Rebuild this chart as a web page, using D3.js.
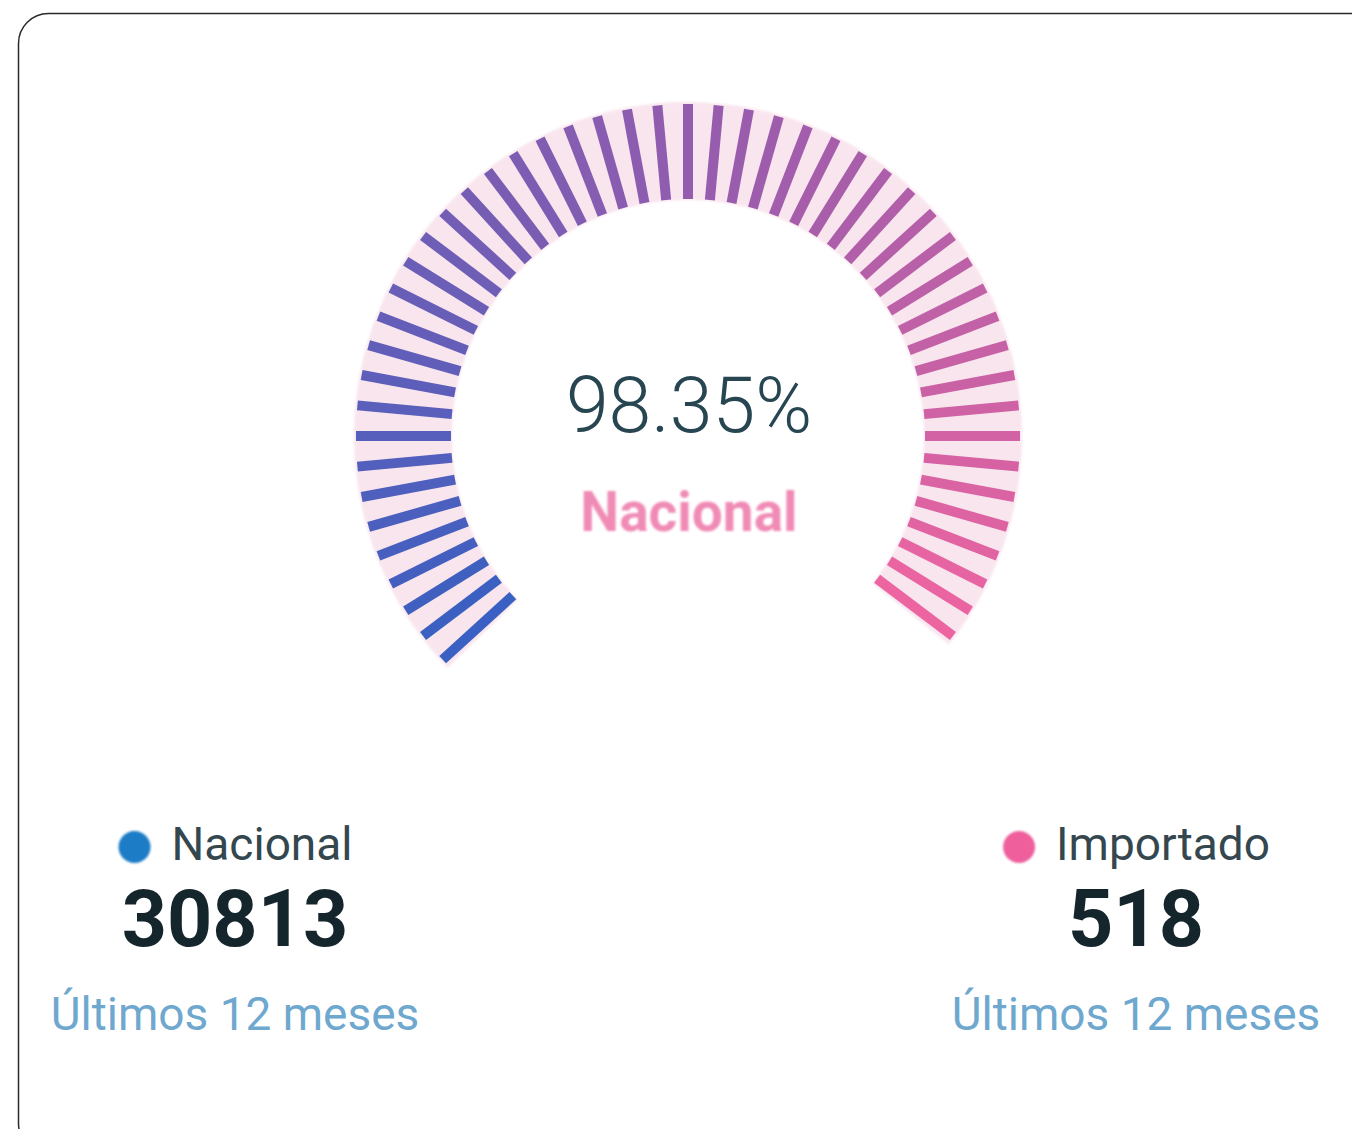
<!DOCTYPE html>
<html>
<head>
<meta charset="utf-8">
<script src="https://cdn.jsdelivr.net/npm/d3@7"></script>
<style>
  html, body { margin: 0; padding: 0; background: #fff; }
  svg { display: block; font-family: Roboto, "Open Sans", sans-serif; }
</style>
</head>
<body>
<svg id="chart"></svg>
<script>
// data
const categories = ["Nacional", "Importado"]
const totals = [30813, 518]
const dotColors = ["#1c7cc6", "#ee5f9c"]
const percent = 98.35
const centerLabel = "Nacional"
const periodLabel = "Últimos 12 meses"
const barCount = 51

const width = 1352
const height = 1129
const cx = 688
const cy = 436
const innerR = 237
const outerR = 332

let svg = d3.select("#chart")
  .attr("width", width)
  .attr("height", height)

// card outline
svg.append("rect")
  .attr("x", 18.5)
  .attr("y", 13.5)
  .attr("width", 1420)
  .attr("height", 1140)
  .attr("rx", 30)
  .attr("fill", "#fff")
  .attr("stroke", "#2b2b2b")
  .attr("stroke-width", 1.5)

let defs = svg.append("defs")
defs.append("filter")
  .attr("id", "soft")
  .append("feGaussianBlur")
  .attr("stdDeviation", 0.9)

// angle scale: 0..100 % -> -135deg..135deg
let angle = d3.scaleLinear()
  .domain([0, 100])
  .range([-135 * Math.PI / 180, 135 * Math.PI / 180])

let slot = d3.scaleBand()
  .domain(d3.range(barCount))
  .range([0, 100])

let color = d3.scaleLinear()
  .domain([0, 50, 100])
  .range(["#3760c2", "#935cae", "#f2659f"])
  .interpolate(d3.interpolateRgb)

let bars = d3.range(barCount).map(function(i) {
  let mid = slot(i) + slot.bandwidth() / 2
  return { i: i, mid: mid, on: slot(i) + slot.bandwidth() <= percent + 0.5 }
}).filter(function(d) { return d.on })

let gauge = svg.append("g")
  .attr("transform", "translate(" + cx + "," + cy + ")")

// faint pink halo behind the bars
let lastMid = bars[bars.length - 1].mid
gauge.append("path")
  .attr("d", d3.arc()
    .innerRadius(innerR - 1)
    .outerRadius(outerR + 2)
    .startAngle(angle(slot(0) + slot.bandwidth() * 0.2))
    .endAngle(angle(lastMid + slot.bandwidth() * 0.3)))
  .attr("fill", "#f7dbe8")
  .attr("opacity", 0.7)
  .attr("filter", "url(#soft)")

// radial bars
gauge.selectAll("line.bar")
  .data(bars)
  .enter()
  .append("line")
  .attr("class", "bar")
  .attr("x1", function(d) { return innerR * Math.sin(angle(d.mid)) })
  .attr("y1", function(d) { return -innerR * Math.cos(angle(d.mid)) })
  .attr("x2", function(d) { return outerR * Math.sin(angle(d.mid)) })
  .attr("y2", function(d) { return -outerR * Math.cos(angle(d.mid)) })
  .attr("stroke", function(d) { return color(d.mid) })
  .attr("stroke-width", 10)

// center text
svg.append("text")
  .attr("x", 689)
  .attr("y", 432)
  .attr("text-anchor", "middle")
  .attr("font-size", 77)
  .attr("font-weight", 300)
  .attr("fill", "#274652")
  .text(percent.toFixed(2) + "%")

svg.append("text")
  .attr("x", 689)
  .attr("y", 531)
  .attr("text-anchor", "middle")
  .attr("font-size", 55)
  .attr("font-weight", 700)
  .attr("fill", "#f08bb5")
  .attr("filter", "url(#soft)")
  .text(centerLabel)

// bottom summaries
let colX = [235, 1136]
let fmt = d3.format("d")

let summary = svg.selectAll("g.summary")
  .data(categories)
  .enter()
  .append("g")
  .attr("class", "summary")
  .attr("transform", function(d, i) { return "translate(" + colX[i] + ",0)" })

summary.each(function(d, i) {
  let g = d3.select(this)
  let label = g.append("text")
    .attr("y", 860)
    .attr("font-size", 46)
    .attr("fill", "#34474f")
    .text(d)
  let w = label.node().getComputedTextLength()
  let total = 34 + 20 + w
  g.append("circle")
    .attr("cx", -total / 2 + 17)
    .attr("cy", 847)
    .attr("r", 16)
    .attr("fill", dotColors[i])
    .attr("filter", "url(#soft)")
  label.attr("x", -total / 2 + 54)

  g.append("text")
    .attr("y", 946)
    .attr("text-anchor", "middle")
    .attr("font-size", 79)
    .attr("font-weight", 700)
    .attr("fill", "#15252c")
    .text(fmt(totals[i]))

  g.append("text")
    .attr("y", 1030)
    .attr("text-anchor", "middle")
    .attr("font-size", 46)
    .attr("fill", "#6fa8cf")
    .text(periodLabel)
})
</script>
</body>
</html>
